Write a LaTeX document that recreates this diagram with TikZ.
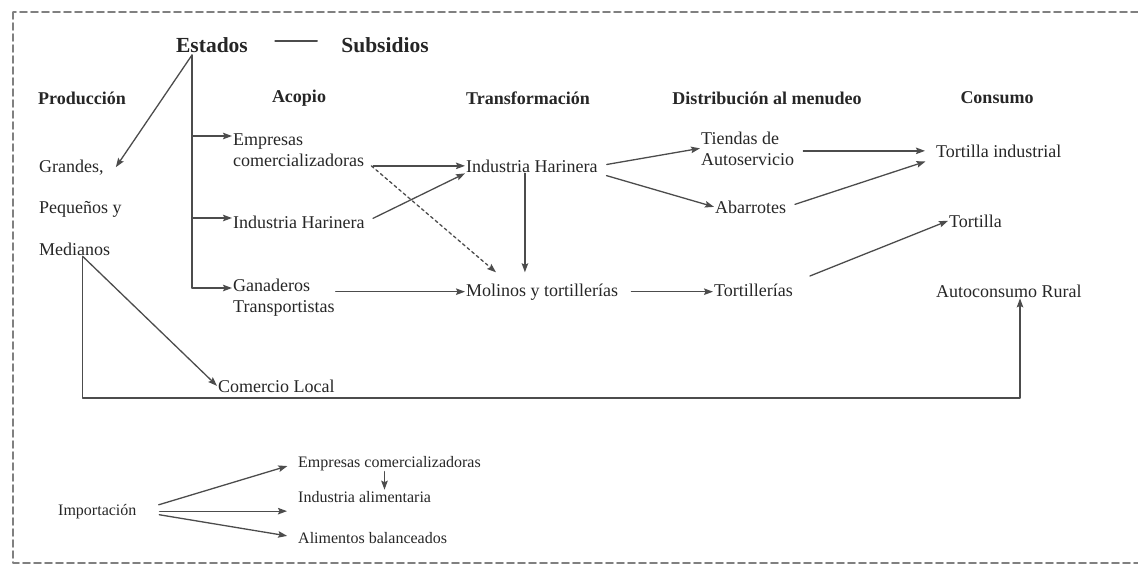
\documentclass[tikz,border=0pt]{standalone}
\usepackage{fontspec}
\setmainfont{Liberation Serif}
\usetikzlibrary{arrows.meta}
\begin{document}
\begin{tikzpicture}[x=1pt, y=-1pt, >={Stealth[length=9pt,width=6.5pt,inset=1.5pt]}, line join=round, line cap=round,
  lbl/.style={anchor=base west, inner sep=1pt, text=black!85, font=\fontsize{18}{21}\selectfont, align=left},
  imp/.style={lbl, font=\fontsize{16}{20}\selectfont},
  hdr/.style={inner sep=1pt, text=black!85, font=\bfseries\fontsize{18}{21}\selectfont},
  top/.style={inner sep=1pt, text=black!85, font=\bfseries\fontsize{21.5}{25}\selectfont},
  link/.style={draw=black!70, line width=1.3pt},
  flow/.style={->, draw=black!70, line width=1.3pt}]
\useasboundingbox (0,0) rectangle (1138,566);
\draw[gray, line width=1.8pt, dash pattern=on 7pt off 4pt] (13,12) rectangle (1141,563);

% etiquetas
\node[top] (estados) at (212,45) {Estados};
\node[top] (subsidios) at (385,45) {Subsidios};
\node[hdr] (prodH) at (82,98) {Producción};
\node[hdr] (acopH) at (299,98) {Acopio};
\node[hdr] (transH) at (528,98) {Transformación};
\node[hdr] (distH) at (767,98) {Distribución al menudeo};
\node[hdr] (consH) at (997,98) {Consumo};

\node[lbl] (grandes) at (38,172) {Grandes,};
\node[lbl] (pequenos) at (38,213) {Pequeños y};
\node[lbl] (medianos) at (38,255) {Medianos};

\node[lbl] (empresas) at (232,166) {Empresas\\comercializadoras};
\node[lbl] (harinaA) at (232,228) {Industria Harinera};
\node[lbl] (ganaderos) at (232,312) {Ganaderos\\Transportistas};
\node[lbl] (comercio) at (217,392) {Comercio Local};

\node[lbl] (harinaT) at (465,172) {Industria Harinera};
\node[lbl] (molinos) at (465,296) {Molinos y tortillerías};

\node[lbl] (tiendas) at (700,165) {Tiendas de\\Autoservicio};
\node[lbl] (abarrotes) at (714,213) {Abarrotes};
\node[lbl] (tortillerias) at (713,296) {Tortillerías};

\node[lbl] (tortInd) at (935,157) {Tortilla industrial};
\node[lbl] (tortilla) at (948,227) {Tortilla};
\node[lbl] (autoconsumo) at (935,297) {Autoconsumo Rural};

\node[imp] (importacion) at (57,515) {Importación};
\node[imp] (empImp) at (297,467) {Empresas comercializadoras};
\node[imp] (alimentaria) at (297,502) {Industria alimentaria};
\node[imp] (balanceados) at (297,543) {Alimentos balanceados};

% Estados
\draw[link, shorten <=26pt, shorten >=23pt] ([yshift=4pt]estados.east) -- ([yshift=4pt]subsidios.west);
\coordinate (trunkT) at (192,55);
\coordinate (b1) at (192,136);
\coordinate (b2) at (192,218);
\coordinate (b3) at (192,288);
\draw[link] (trunkT) -- (b3);
\draw[flow] (trunkT) -- ([xshift=11pt]grandes.east);
\draw[flow] (b1) -- (b1 -| empresas.west);
\draw[flow] (b2) -- (b2 -| harinaA.west);
\draw[flow] (b3) -- (b3 -| ganaderos.west);

% cadena
\draw[flow, shorten <=8pt] (empresas.east |- harinaT.west) -- (harinaT.west);
\draw[flow, dashed, shorten <=8pt] ([yshift=-11pt]empresas.east) -- ([xshift=31pt,yshift=10pt]molinos.north west);
\draw[flow, shorten <=8pt] (harinaA.east) -- (harinaT.south west);
\draw[flow] ([xshift=-7pt]harinaT.south) -- ([xshift=-7pt,yshift=10pt]harinaT.south |- molinos.north);
\draw[flow] (ganaderos.east |- molinos.west) -- (molinos.west);
\draw[flow, shorten <=8pt] (harinaT.east) -- (tiendas.west);
\draw[flow, shorten <=8pt] (harinaT.south east) -- (abarrotes.west);
\draw[flow, shorten <=12pt] (molinos.east) -- (molinos.east -| tortillerias.west);
\draw[flow, shorten <=8pt, shorten >=10pt] (tiendas.east |- tortInd.west) -- (tortInd.west);
\draw[flow, shorten <=8pt, shorten >=10pt] (abarrotes.east) -- (tortInd.south west);
\draw[flow, shorten <=17pt] (tortillerias.north east) -- (tortilla.west);

% produccion local
\coordinate (loopR) at (1020,398);
\draw[flow] ([xshift=8pt]medianos.south) -- (comercio.west);
\draw[flow] ([xshift=8pt]medianos.south) |- (loopR) -- (loopR |- autoconsumo.south);

% importacion
\draw[flow, shorten <=22pt, shorten >=10pt] (importacion.east) -- (empImp.west);
\draw[flow, shorten <=22pt, shorten >=10pt] (importacion.east) -- (importacion.east -| alimentaria.west);
\draw[flow, shorten <=22pt, shorten >=10pt] (importacion.east) -- (balanceados.west);
\draw[flow] ([xshift=-5pt]empImp.south) -- ([xshift=-5pt]empImp.south |- alimentaria.north);
\end{tikzpicture}
\end{document}
